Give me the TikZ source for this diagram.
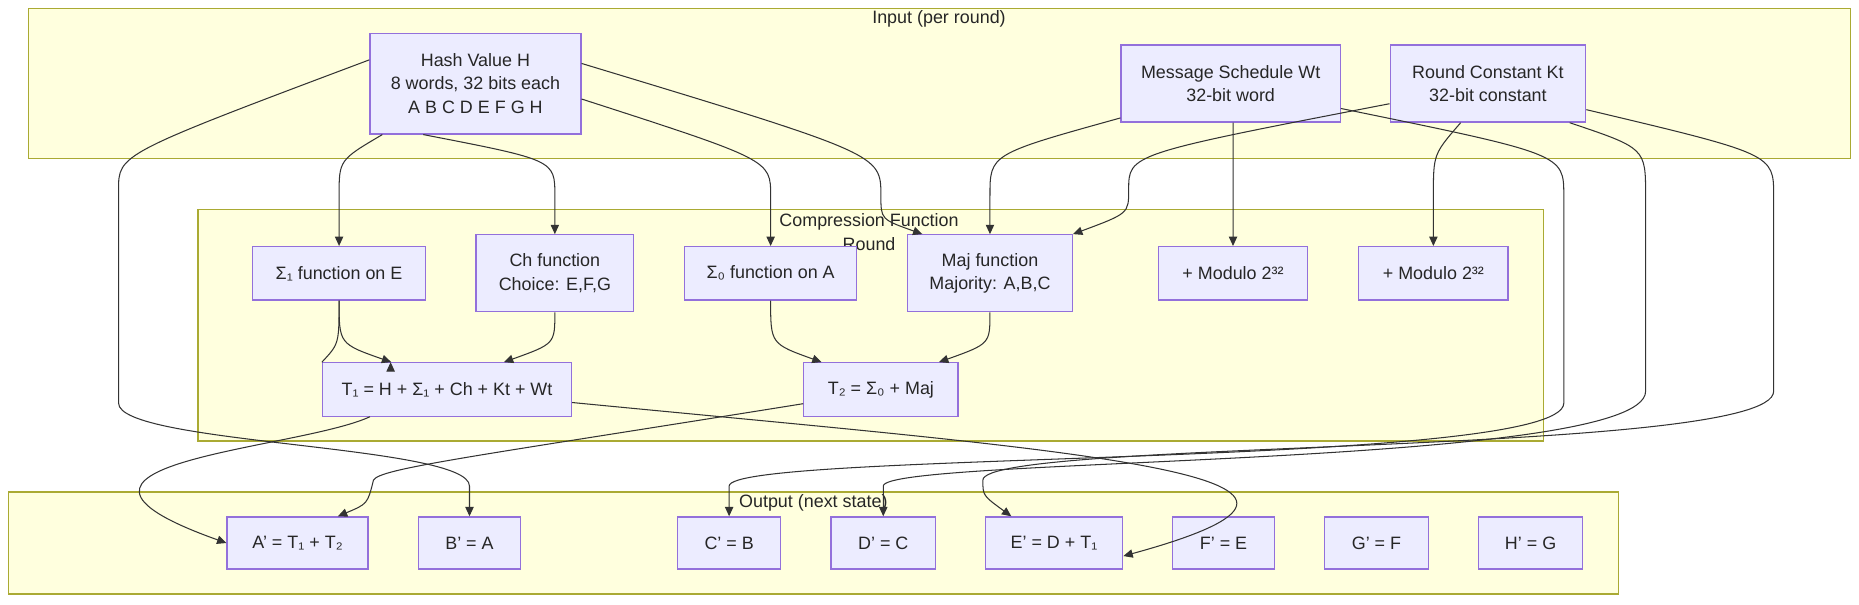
\documentclass[tikz,border=0pt]{standalone}
\usepackage{fontspec}
\setmainfont{Liberation Sans}
\usetikzlibrary{positioning,arrows.meta}
\definecolor{clfill}{HTML}{FFFFDE}
\definecolor{cldraw}{HTML}{AAAA33}
\definecolor{ndfill}{HTML}{ECECFF}
\definecolor{nddraw}{HTML}{9370DB}
\tikzset{
  cluster/.style={draw=cldraw, fill=clfill, line width=0.6pt},
  box/.style={draw=nddraw, fill=ndfill, line width=0.6pt, inner sep=0pt, align=center, font=\fontsize{8.6}{11.4}\selectfont, text=black!85},
  lbl/.style={font=\fontsize{8.6}{11.4}\selectfont, text=black!85, align=center},
  link/.style={draw=black!80, line width=0.5pt, -{Triangle[length=4.5pt,width=4pt]}}
}
\begin{document}
\begin{tikzpicture}[x=0.02cm,y=-0.02cm]
\useasboundingbox (0,0) rectangle (1568,510);
% clusters
\draw[cluster] (24,7) rectangle (1561,134);
\node[lbl] (lbl_in) at (792,16) {Input (per round)};
\draw[cluster] (167,177) rectangle (1302,372);
\node[lbl] (lbl_cf) at (733,196) {Compression Function\\Round};
\draw[cluster] (7,415) rectangle (1365,501);
\node[lbl] (lbl_out) at (686,424) {Output (next state)};
% input nodes
\node[box, minimum width=3.56cm, minimum height=1.7cm] (hash) at (401,70.5) {Hash Value H\\8 words, 32 bits each\\A B C D E F G H};
\node[box, minimum width=3.7cm, minimum height=1.3cm] (wt) at (1038,70.5) {Message Schedule Wt\\32-bit word};
\node[box, minimum width=3.3cm, minimum height=1.3cm] (kt) at (1255,70.5) {Round Constant Kt\\32-bit constant};
% compression nodes
\node[box, minimum width=2.92cm, minimum height=0.9cm] (sig1) at (286,230.5) {Σ₁ function on E};
\node[box, minimum width=2.66cm, minimum height=1.3cm] (ch) at (468,230.5) {Ch function\\Choice: E,F,G};
\node[box, minimum width=2.9cm, minimum height=0.9cm] (sig0) at (650,230.5) {Σ₀ function on A};
\node[box, minimum width=2.78cm, minimum height=1.3cm] (maj) at (835,230.5) {Maj function\\Majority: A,B,C};
\node[box, minimum width=2.52cm, minimum height=0.9cm] (mod1) at (1040,230.5) {+ Modulo 2³²};
\node[box, minimum width=2.52cm, minimum height=0.9cm] (mod2) at (1209,230.5) {+ Modulo 2³²};
\node[box, minimum width=4.2cm, minimum height=0.9cm] (t1) at (377,328.5) {T₁ = H + Σ₁ + Ch + Kt + Wt};
\node[box, minimum width=2.6cm, minimum height=0.9cm] (t2) at (743,328.5) {T₂ = Σ₀ + Maj};
% output nodes
\node[box, minimum width=2.38cm, minimum height=0.88cm] (a_new) at (251,458) {A' = T₁ + T₂};
\node[box, minimum width=1.72cm, minimum height=0.88cm] (b_new) at (396,458) {B' = A};
\node[box, minimum width=1.74cm, minimum height=0.88cm] (c_new) at (615,458) {C' = B};
\node[box, minimum width=1.76cm, minimum height=0.88cm] (d_new) at (745,458) {D' = C};
\node[box, minimum width=2.32cm, minimum height=0.88cm] (e_new) at (889,458) {E' = D + T₁};
\node[box, minimum width=1.72cm, minimum height=0.88cm] (f_new) at (1032,458) {F' = E};
\node[box, minimum width=1.76cm, minimum height=0.88cm] (g_new) at (1161,458) {G' = F};
\node[box, minimum width=1.76cm, minimum height=0.88cm] (h_new) at (1291,458) {H' = G};
% links from hash value
\draw[link] (hash.south west) ++(11,0) .. controls (286,135) .. (286,165) -- (sig1.north);
\draw[link] ([xshift=-0.88cm]hash.south) .. controls (468,135) .. (468,165) -- (ch.north);
\draw[link] ([yshift=-0.26cm]hash.east) .. controls (650,135) .. (650,165) -- (sig0.north);
\draw[link] ([yshift=0.34cm]hash.east) .. controls (743,130) .. (743,165) .. controls (743,185) .. ([xshift=-1.14cm]maj.north);
\draw[link] ([yshift=0.4cm]hash.west) .. controls (100,130) .. (100,160) -- (100,340) .. controls (100,375) and (396,375) .. (396,410) -- (b_new.north);
% links from message schedule
\draw[link] ([yshift=-0.58cm]wt.west) .. controls (835,130) .. (835,165) -- (maj.north);
\draw[link] ([xshift=0.04cm]wt.south) -- (mod1.north);
\draw[link] ([yshift=-0.42cm]wt.east) .. controls (1319,130) .. (1319,165) -- (1319,340) .. controls (1319,395) and (615,380) .. (615,410) -- (c_new.north);
% links from round constant
\draw[link] ([yshift=-0.34cm]kt.west) .. controls (952,130) .. (952,160) .. controls (952,180) .. (maj.north east);
\draw[link] ([xshift=-0.46cm]kt.south) .. controls (1209,130) .. (1209,165) -- (mod2.north);
\draw[link] ([xshift=1.38cm]kt.south) .. controls (1388,125) .. (1388,165) -- (1388,330) .. controls (1388,395) and (745,385) .. (745,410) -- (d_new.north);
\draw[link] ([yshift=-0.44cm]kt.east) .. controls (1496,130) .. (1496,165) -- (1496,330) .. controls (1496,385) and (829,370) .. (829,405) .. controls (829,418) .. ([xshift=-0.72cm]e_new.north);
% compression links
\draw[link] (sig1.south) .. controls (286,290) .. (t1.north west) ++(58,0);
\draw[link] (sig1.south) .. controls (286,290) .. ([xshift=-0.94cm]t1.north);
\draw[link] (ch.south) .. controls (468,290) .. ([xshift=0.96cm]t1.north);
\draw[link] (sig0.south) .. controls (650,290) .. ([xshift=-1cm]t2.north);
\draw[link] (maj.south) .. controls (835,290) .. ([xshift=0.98cm]t2.north);
% outputs from temporaries
\draw[link] ([xshift=-1.3cm]t1.south) .. controls (250,380) and (0,390) .. (a_new.west);
\draw[link] ([yshift=-0.22cm]t1.east) .. controls (900,380) and (1200,400) .. ([yshift=-0.22cm]e_new.east);
\draw[link] ([yshift=-0.24cm]t2.west) .. controls (400,385) and (320,395) .. (315,405) .. controls (310,425) .. ([xshift=0.68cm]a_new.north);
\end{tikzpicture}
\end{document}
